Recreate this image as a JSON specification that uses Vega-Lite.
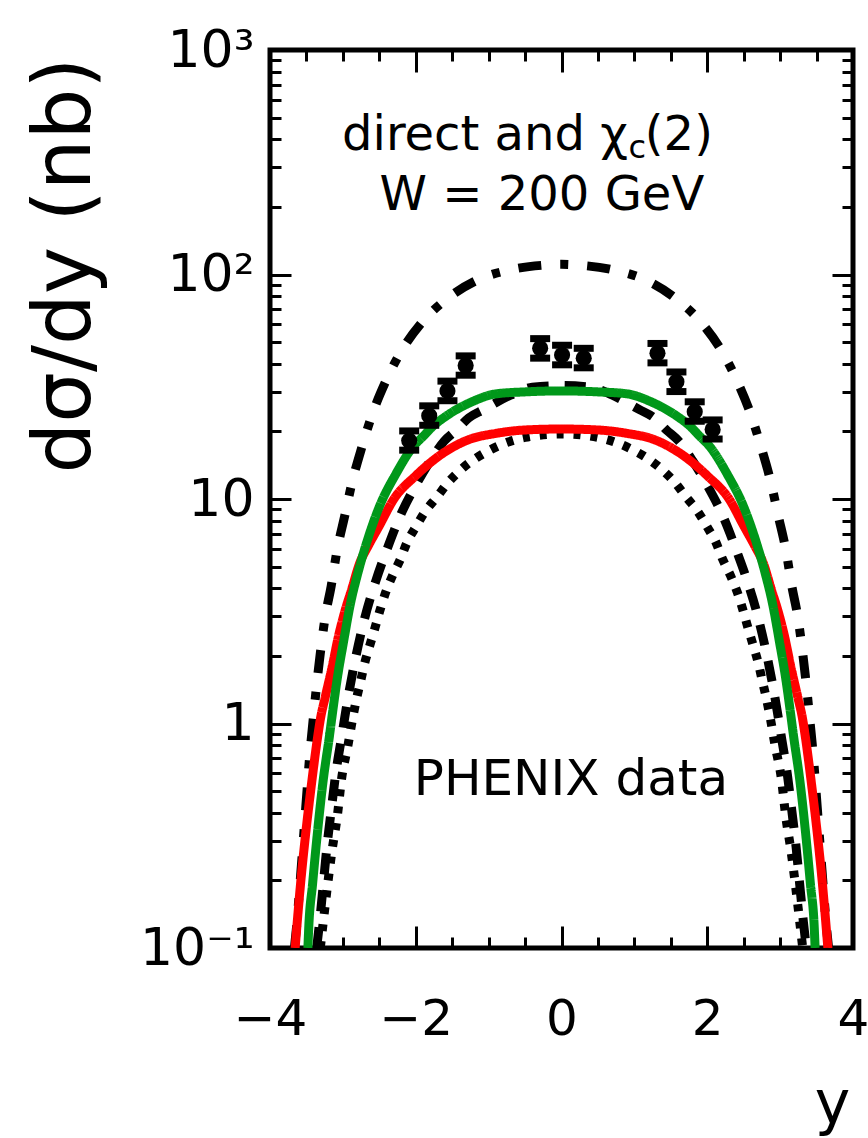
{
"$schema":"https://vega.github.io/schema/vega-lite/v6.json",
"width":583,"height":898,
"autosize":{"type":"none"},
"padding":{"left":270,"top":50,"right":15,"bottom":190},
"background":"white",
"config":{"view":{"stroke":"black","strokeWidth":5,"fill":"white"},
 "axis":{"labelFont":"DejaVu Sans","titleFont":"DejaVu Sans","labelColor":"black","titleColor":"black","tickColor":"black","grid":false,"domain":false,"tickWidth":3},
 "text":{"font":"DejaVu Sans","color":"black"}},
"datasets":{
"curves":[
{"m":"dd","x":-3.665,"v":0.1},{"m":"dd","x":-3.64,"v":0.12},{"m":"dd","x":-3.585,"v":0.2},{"m":"dd","x":-3.51,"v":0.42},{"m":"dd","x":-3.45,"v":0.75},{"m":"dd","x":-3.41,"v":1.02},{"m":"dd","x":-3.365,"v":1.43},{"m":"dd","x":-3.31,"v":2.05},{"m":"dd","x":-3.245,"v":2.95},{"m":"dd","x":-3.16,"v":4.1},{"m":"dd","x":-3.08,"v":5.9},{"m":"dd","x":-2.975,"v":8.4},{"m":"dd","x":-2.87,"v":12},{"m":"dd","x":-2.74,"v":17},{"m":"dd","x":-2.6,"v":23.7},{"m":"dd","x":-2.42,"v":33},{"m":"dd","x":-2.2,"v":45.5},{"m":"dd","x":-1.92,"v":61},{"m":"dd","x":-1.57,"v":78},{"m":"dd","x":-1.17,"v":94},{"m":"dd","x":-0.7,"v":105},{"m":"dd","x":-0.25,"v":110},{"m":"dd","x":0,"v":111},{"m":"dd","x":0.25,"v":110},{"m":"dd","x":0.7,"v":105},{"m":"dd","x":1.17,"v":94},{"m":"dd","x":1.57,"v":78},{"m":"dd","x":1.92,"v":61},{"m":"dd","x":2.2,"v":45.5},{"m":"dd","x":2.42,"v":33},{"m":"dd","x":2.6,"v":23.7},{"m":"dd","x":2.74,"v":17},{"m":"dd","x":2.87,"v":12},{"m":"dd","x":2.975,"v":8.4},{"m":"dd","x":3.08,"v":5.9},{"m":"dd","x":3.16,"v":4.1},{"m":"dd","x":3.245,"v":2.95},{"m":"dd","x":3.31,"v":2.05},{"m":"dd","x":3.365,"v":1.43},{"m":"dd","x":3.41,"v":1.02},{"m":"dd","x":3.45,"v":0.75},{"m":"dd","x":3.51,"v":0.42},{"m":"dd","x":3.585,"v":0.2},{"m":"dd","x":3.64,"v":0.12},{"m":"dd","x":3.665,"v":0.1},
{"m":"da","x":-3.36,"v":0.1},{"m":"da","x":-3.32,"v":0.13},{"m":"da","x":-3.27,"v":0.19},{"m":"da","x":-3.22,"v":0.28},{"m":"da","x":-3.16,"v":0.41},{"m":"da","x":-3.1,"v":0.59},{"m":"da","x":-3.02,"v":0.86},{"m":"da","x":-2.93,"v":1.3},{"m":"da","x":-2.82,"v":2.0},{"m":"da","x":-2.7,"v":2.95},{"m":"da","x":-2.55,"v":4.3},{"m":"da","x":-2.4,"v":5.9},{"m":"da","x":-2.2,"v":8.6},{"m":"da","x":-2.0,"v":11.5},{"m":"da","x":-1.8,"v":14.8},{"m":"da","x":-1.61,"v":18.1},{"m":"da","x":-1.44,"v":20.3},{"m":"da","x":-1.27,"v":23},{"m":"da","x":-1.07,"v":25},{"m":"da","x":-0.7,"v":29},{"m":"da","x":-0.4,"v":31.5},{"m":"da","x":0,"v":32},{"m":"da","x":0.4,"v":31.5},{"m":"da","x":0.7,"v":29},{"m":"da","x":1.07,"v":25},{"m":"da","x":1.27,"v":23},{"m":"da","x":1.44,"v":20.3},{"m":"da","x":1.61,"v":18.1},{"m":"da","x":1.8,"v":14.8},{"m":"da","x":2.0,"v":11.5},{"m":"da","x":2.2,"v":8.6},{"m":"da","x":2.4,"v":5.9},{"m":"da","x":2.55,"v":4.3},{"m":"da","x":2.7,"v":2.95},{"m":"da","x":2.82,"v":2.0},{"m":"da","x":2.93,"v":1.3},{"m":"da","x":3.02,"v":0.86},{"m":"da","x":3.1,"v":0.59},{"m":"da","x":3.16,"v":0.41},{"m":"da","x":3.22,"v":0.28},{"m":"da","x":3.27,"v":0.19},{"m":"da","x":3.32,"v":0.13},{"m":"da","x":3.36,"v":0.1},
{"m":"do","x":-3.31,"v":0.1},{"m":"do","x":-3.27,"v":0.13},{"m":"do","x":-3.215,"v":0.185},{"m":"do","x":-3.15,"v":0.27},{"m":"do","x":-3.075,"v":0.39},{"m":"do","x":-3.02,"v":0.56},{"m":"do","x":-2.93,"v":0.8},{"m":"do","x":-2.86,"v":1.08},{"m":"do","x":-2.81,"v":1.3},{"m":"do","x":-2.755,"v":1.55},{"m":"do","x":-2.7,"v":1.86},{"m":"do","x":-2.63,"v":2.23},{"m":"do","x":-2.56,"v":2.66},{"m":"do","x":-2.49,"v":3.2},{"m":"do","x":-2.415,"v":3.82},{"m":"do","x":-2.32,"v":4.55},{"m":"do","x":-2.21,"v":5.4},{"m":"do","x":-2.12,"v":6.4},{"m":"do","x":-2.0,"v":7.5},{"m":"do","x":-1.87,"v":8.8},{"m":"do","x":-1.71,"v":10.2},{"m":"do","x":-1.56,"v":11.8},{"m":"do","x":-1.37,"v":13.6},{"m":"do","x":-0.97,"v":16.6},{"m":"do","x":-0.5,"v":18.8},{"m":"do","x":0,"v":19.5},{"m":"do","x":0.5,"v":18.8},{"m":"do","x":0.97,"v":16.6},{"m":"do","x":1.37,"v":13.6},{"m":"do","x":1.56,"v":11.8},{"m":"do","x":1.71,"v":10.2},{"m":"do","x":1.87,"v":8.8},{"m":"do","x":2.0,"v":7.5},{"m":"do","x":2.12,"v":6.4},{"m":"do","x":2.21,"v":5.4},{"m":"do","x":2.32,"v":4.55},{"m":"do","x":2.415,"v":3.82},{"m":"do","x":2.49,"v":3.2},{"m":"do","x":2.56,"v":2.66},{"m":"do","x":2.63,"v":2.23},{"m":"do","x":2.7,"v":1.86},{"m":"do","x":2.755,"v":1.55},{"m":"do","x":2.81,"v":1.3},{"m":"do","x":2.86,"v":1.08},{"m":"do","x":2.93,"v":0.8},{"m":"do","x":3.02,"v":0.56},{"m":"do","x":3.075,"v":0.39},{"m":"do","x":3.15,"v":0.27},{"m":"do","x":3.215,"v":0.185},{"m":"do","x":3.27,"v":0.13},{"m":"do","x":3.31,"v":0.1},
{"m":"re","x":-3.655,"v":0.1},{"m":"re","x":-3.64,"v":0.115},{"m":"re","x":-3.58,"v":0.194},{"m":"re","x":-3.51,"v":0.324},{"m":"re","x":-3.43,"v":0.54},{"m":"re","x":-3.34,"v":0.9},{"m":"re","x":-3.31,"v":1.04},{"m":"re","x":-3.24,"v":1.32},{"m":"re","x":-3.15,"v":1.77},{"m":"re","x":-3.06,"v":2.45},{"m":"re","x":-2.98,"v":3.1},{"m":"re","x":-2.88,"v":3.95},{"m":"re","x":-2.77,"v":5.17},{"m":"re","x":-2.65,"v":6.2},{"m":"re","x":-2.5,"v":7.6},{"m":"re","x":-2.3,"v":10.0},{"m":"re","x":-2.0,"v":12.7},{"m":"re","x":-1.65,"v":15.8},{"m":"re","x":-1.27,"v":18.4},{"m":"re","x":-0.9,"v":19.6},{"m":"re","x":-0.5,"v":20.3},{"m":"re","x":0,"v":20.5},{"m":"re","x":0.5,"v":20.3},{"m":"re","x":0.9,"v":19.6},{"m":"re","x":1.27,"v":18.4},{"m":"re","x":1.65,"v":15.8},{"m":"re","x":2.0,"v":12.7},{"m":"re","x":2.3,"v":10.0},{"m":"re","x":2.5,"v":7.6},{"m":"re","x":2.65,"v":6.2},{"m":"re","x":2.77,"v":5.17},{"m":"re","x":2.88,"v":3.95},{"m":"re","x":2.98,"v":3.1},{"m":"re","x":3.06,"v":2.45},{"m":"re","x":3.15,"v":1.77},{"m":"re","x":3.24,"v":1.32},{"m":"re","x":3.31,"v":1.04},{"m":"re","x":3.34,"v":0.9},{"m":"re","x":3.43,"v":0.54},{"m":"re","x":3.51,"v":0.324},{"m":"re","x":3.58,"v":0.194},{"m":"re","x":3.64,"v":0.115},{"m":"re","x":3.655,"v":0.1},
{"m":"gr","x":-3.48,"v":0.1},{"m":"gr","x":-3.47,"v":0.12},{"m":"gr","x":-3.415,"v":0.194},{"m":"gr","x":-3.35,"v":0.324},{"m":"gr","x":-3.275,"v":0.542},{"m":"gr","x":-3.18,"v":0.9},{"m":"gr","x":-3.14,"v":1.13},{"m":"gr","x":-3.075,"v":1.6},{"m":"gr","x":-2.99,"v":2.32},{"m":"gr","x":-2.9,"v":3.37},{"m":"gr","x":-2.795,"v":4.67},{"m":"gr","x":-2.67,"v":6.45},{"m":"gr","x":-2.49,"v":9.4},{"m":"gr","x":-2.28,"v":12.8},{"m":"gr","x":-2.03,"v":17.2},{"m":"gr","x":-1.9,"v":19.0},{"m":"gr","x":-1.75,"v":21.3},{"m":"gr","x":-1.6,"v":23.2},{"m":"gr","x":-1.24,"v":27.0},{"m":"gr","x":-0.9,"v":29.4},{"m":"gr","x":-0.5,"v":30.0},{"m":"gr","x":0,"v":30.3},{"m":"gr","x":0.5,"v":30.0},{"m":"gr","x":0.9,"v":29.4},{"m":"gr","x":1.24,"v":27.0},{"m":"gr","x":1.6,"v":23.2},{"m":"gr","x":1.75,"v":21.3},{"m":"gr","x":1.9,"v":19.0},{"m":"gr","x":2.03,"v":17.2},{"m":"gr","x":2.28,"v":12.8},{"m":"gr","x":2.49,"v":9.4},{"m":"gr","x":2.67,"v":6.45},{"m":"gr","x":2.795,"v":4.67},{"m":"gr","x":2.9,"v":3.37},{"m":"gr","x":2.99,"v":2.32},{"m":"gr","x":3.075,"v":1.6},{"m":"gr","x":3.14,"v":1.13},{"m":"gr","x":3.18,"v":0.9},{"m":"gr","x":3.275,"v":0.542},{"m":"gr","x":3.35,"v":0.324},{"m":"gr","x":3.415,"v":0.194},{"m":"gr","x":3.47,"v":0.12},{"m":"gr","x":3.48,"v":0.1}
],
"points":[
{"x":-2.09,"v":18.2,"lo":16.5,"hi":20.1},
{"x":-1.815,"v":23.5,"lo":21.3,"hi":26.0},
{"x":-1.565,"v":30.3,"lo":27.4,"hi":33.5},
{"x":-1.315,"v":39.3,"lo":35.6,"hi":43.4},
{"x":-0.293,"v":46.9,"lo":42.4,"hi":51.8},
{"x":0.008,"v":43.8,"lo":39.6,"hi":48.4},
{"x":0.305,"v":42.4,"lo":38.4,"hi":46.9},
{"x":1.317,"v":44.6,"lo":40.4,"hi":49.3},
{"x":1.577,"v":33.3,"lo":30.1,"hi":36.8},
{"x":1.828,"v":24.5,"lo":22.2,"hi":27.1},
{"x":2.074,"v":20.4,"lo":18.5,"hi":22.5}
],
"one":[{}]
},
"resolve":{"axis":{"x":"independent","y":"independent"}},
"layer":[
{"data":{"name":"curves"},
 "mark":{"type":"line","strokeWidth":9,"strokeCap":"butt","interpolate":"monotone","clip":true},
 "encoding":{
  "x":{"field":"x","type":"quantitative","scale":{"domain":[-4,4],"nice":false,"zero":false},
   "axis":{"orient":"bottom","values":[-4,-2,0,2,4],"offset":-22,"tickSize":22,"labelFontSize":50,"labelPadding":46,"labelFlush":false,"labelOverlap":false,"labelBound":false,
    "title":"y","titleFontSize":60,"titleFontWeight":"normal","titleX":562,"titleY":196,"titleAlign":"center","titleBaseline":"alphabetic"}},
  "y":{"field":"v","type":"quantitative","scale":{"type":"log","domain":[0.1,1000],"nice":false},
   "axis":{"orient":"left","values":[0.1,1,10,100,1000],"offset":-21,"tickSize":21,"labelFontSize":52,"labelPadding":16,"labelFlush":false,"labelOverlap":false,"labelBound":false,
    "labelExpr":"datum.value > 999 ? '10³' : datum.value > 99 ? '10²' : datum.value > 9 ? '10' : datum.value > 0.9 ? '1' : '10⁻¹'",
    "title":"dσ/dy (nb)","titleFontSize":80,"titleFontWeight":"normal","titleAngle":270,"titleX":-226,"titleY":215,"titleAlign":"center","titleBaseline":"middle"}},
  "color":{"field":"m","type":"nominal","scale":{"domain":["dd","da","do","re","gr"],"range":["black","black","black","#ff0000","#00981a"]},"legend":null},
  "strokeDash":{"field":"m","type":"nominal","scale":{"domain":["dd","da","do","re","gr"],"range":[[23,19,8,19],[21,16],[7,10],[1,0],[1,0]]},"legend":null}
 }},
{"data":{"name":"points"},
 "mark":{"type":"rule","strokeWidth":4,"color":"black"},
 "encoding":{
  "x":{"field":"x","type":"quantitative","scale":{"domain":[-4,4],"nice":false,"zero":false},
   "axis":{"orient":"bottom","values":[-3.5,-3,-2.5,-1.5,-1,-0.5,0.5,1,1.5,2.5,3,3.5],"offset":-11,"tickSize":11,"labels":false,"title":null}},
  "y":{"field":"lo","type":"quantitative","scale":{"type":"log","domain":[0.1,1000],"nice":false},
   "axis":{"orient":"left","values":[0.2,0.3,0.4,0.5,0.6,0.7,0.8,0.9,2,3,4,5,6,7,8,9,20,30,40,50,60,70,80,90,200,300,400,500,600,700,800,900],"offset":-11,"tickSize":11,"labels":false,"title":null}},
  "y2":{"field":"hi"}
 }},
{"data":{"name":"points"},
 "mark":{"type":"tick","orient":"horizontal","size":20,"thickness":7,"color":"black","opacity":1},
 "encoding":{
  "x":{"field":"x","type":"quantitative","scale":{"domain":[-4,4],"nice":false,"zero":false},
   "axis":{"orient":"top","values":[-4,-2,0,2,4],"offset":-22,"tickSize":22,"labels":false,"title":null}},
  "y":{"field":"hi","type":"quantitative","scale":{"type":"log","domain":[0.1,1000],"nice":false},
   "axis":{"orient":"right","values":[0.1,1,10,100,1000],"offset":-21,"tickSize":21,"labels":false,"title":null}}
 }},
{"data":{"name":"points"},
 "mark":{"type":"tick","orient":"horizontal","size":20,"thickness":7,"color":"black","opacity":1},
 "encoding":{
  "x":{"field":"x","type":"quantitative","scale":{"domain":[-4,4],"nice":false,"zero":false},
   "axis":{"orient":"top","values":[-3.5,-3,-2.5,-1.5,-1,-0.5,0.5,1,1.5,2.5,3,3.5],"offset":-11,"tickSize":11,"labels":false,"title":null}},
  "y":{"field":"lo","type":"quantitative","scale":{"type":"log","domain":[0.1,1000],"nice":false},
   "axis":{"orient":"right","values":[0.2,0.3,0.4,0.5,0.6,0.7,0.8,0.9,2,3,4,5,6,7,8,9,20,30,40,50,60,70,80,90,200,300,400,500,600,700,800,900],"offset":-11,"tickSize":11,"labels":false,"title":null}}
 }},
{"data":{"name":"points"},
 "mark":{"type":"circle","size":260,"color":"black","opacity":1},
 "encoding":{
  "x":{"field":"x","type":"quantitative","axis":null},
  "y":{"field":"v","type":"quantitative","axis":null}
 }},
{"data":{"name":"one"},
 "mark":{"type":"text","text":"direct and χ","fontSize":48,"align":"right","baseline":"alphabetic"},
 "encoding":{"x":{"datum":0.911,"type":"quantitative","axis":null},"y":{"datum":358.6,"type":"quantitative","axis":null}}},
{"data":{"name":"one"},
 "mark":{"type":"text","text":"c","fontSize":32,"align":"left","baseline":"alphabetic"},
 "encoding":{"x":{"datum":0.92,"type":"quantitative","axis":null},"y":{"datum":330.4,"type":"quantitative","axis":null}}},
{"data":{"name":"one"},
 "mark":{"type":"text","text":"(2)","fontSize":48,"align":"left","baseline":"alphabetic"},
 "encoding":{"x":{"datum":1.144,"type":"quantitative","axis":null},"y":{"datum":358.6,"type":"quantitative","axis":null}}},
{"data":{"name":"one"},
 "mark":{"type":"text","text":"W = 200 GeV","fontSize":48,"align":"center","baseline":"alphabetic"},
 "encoding":{"x":{"datum":-0.269,"type":"quantitative","axis":null},"y":{"datum":193.8,"type":"quantitative","axis":null}}},
{"data":{"name":"one"},
 "mark":{"type":"text","text":"PHENIX data","fontSize":50,"align":"center","baseline":"alphabetic"},
 "encoding":{"x":{"datum":0.129,"type":"quantitative","axis":null},"y":{"datum":0.48,"type":"quantitative","axis":null}}}
]
}
